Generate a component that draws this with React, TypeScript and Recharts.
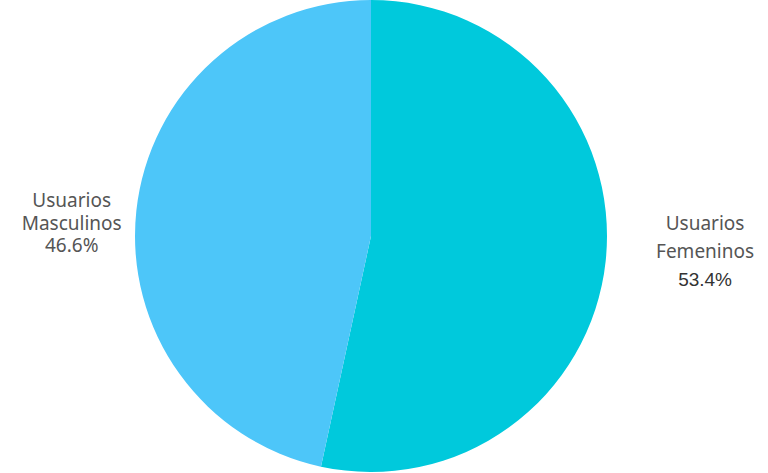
import React from "react";
import { PieChart, Pie, Cell } from "recharts";

const categories = ["Usuarios Femeninos", "Usuarios Masculinos"];
const shares = [53.4, 46.6];
const colors = ["#00C9DC", "#4DC6F9"];

const data = categories.map((name, i) => ({ name, value: shares[i] }));

const RAD = Math.PI / 180;

const renderLabel = (props: any) => {
  const { cx, cy, midAngle, outerRadius, name, value } = props;
  const cos = Math.cos(-midAngle * RAD);
  const right = cos >= 0;
  const dist = outerRadius + (right ? 100 : 65);
  const x = cx + dist * cos;
  const words = String(name).split(" ");
  if (right) {
    const y0 = cy - 6;
    return (
      <text x={x} y={y0} textAnchor="middle" fontFamily="'Noto Sans', sans-serif" fontSize={19} fill="#555">
        <tspan x={x} dy={0}>{words[0]}</tspan>
        <tspan x={x} dy={27.5}>{words[1]}</tspan>
        <tspan x={x} dy={28} fill="#333" fontFamily="'Liberation Sans', Arial, sans-serif" fontSize={19}>
          {value.toFixed(1)}%
        </tspan>
      </text>
    );
  }
  const y0 = cy - 29;
  return (
    <text x={x} y={y0} textAnchor="middle" fontFamily="'Noto Sans', sans-serif" fontSize={19} fill="#555">
      <tspan x={x} dy={0}>{words[0]}</tspan>
      <tspan x={x} dy={22.5}>{words[1]}</tspan>
      <tspan x={x} dy={22}>{value.toFixed(1)}%</tspan>
    </text>
  );
};

export default function App() {
  return (
    <div style={{ position: "absolute", left: 0, top: 0, background: "#fff" }}>
      <PieChart width={768} height={473} margin={{ top: 0, right: 0, bottom: 0, left: 0 }}>
        <Pie
          data={data}
          dataKey="value"
          nameKey="name"
          cx={371}
          cy={236}
          outerRadius={236}
          startAngle={90}
          endAngle={-270}
          stroke="none"
          label={renderLabel}
          labelLine={false}
          isAnimationActive={false}
        >
          {data.map((d, i) => (
            <Cell key={d.name} fill={colors[i]} />
          ))}
        </Pie>
      </PieChart>
    </div>
  );
}
